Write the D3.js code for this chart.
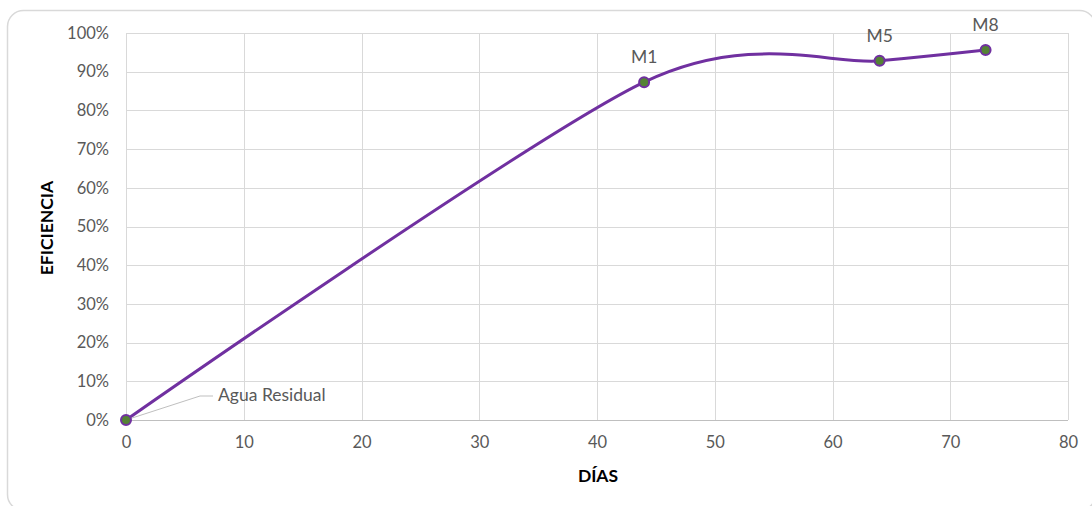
<!DOCTYPE html>
<html><head><meta charset="utf-8">
<script src="https://cdn.jsdelivr.net/npm/d3@7"></script>
<style>body{margin:0;background:#fff;}svg{display:block;}</style>
</head><body>
<svg id="c" width="1092" height="506"></svg>
<script>
const dias = [0, 44, 64, 73];
const eficiencia = [0, 0.873, 0.928, 0.956];
const etiquetas = ["Agua Residual", "M1", "M5", "M8"];
const xTicks = [0, 10, 20, 30, 40, 50, 60, 70, 80];
const yTicks = [0, 0.1, 0.2, 0.3, 0.4, 0.5, 0.6, 0.7, 0.8, 0.9, 1.0];

const svg = d3.select("#c");
const font = "Lato, 'Open Sans', sans-serif";
svg.append("rect").attr("x", 7.5).attr("y", 10.5).attr("width", 1088).attr("height", 500)
  .attr("rx", 16).attr("fill", "#fff").attr("stroke", "#d9d9d9").attr("stroke-width", 1.5);

const x = d3.scaleLinear().domain([0, 80]).range([126, 1068]);
const y = d3.scaleLinear().domain([0, 1]).range([420, 33]);

const g = svg.append("g");
g.selectAll(".hg").data(yTicks).join("line")
  .attr("x1", x(0)).attr("x2", x(80)).attr("y1", d => Math.round(y(d)) + 0.5).attr("y2", d => Math.round(y(d)) + 0.5)
  .attr("stroke", d => d === 0 ? "#bfbfbf" : "#d9d9d9").attr("stroke-width", 1);
g.selectAll(".vg").data(xTicks).join("line")
  .attr("y1", y(1)).attr("y2", y(0)).attr("x1", d => Math.round(x(d)) + 0.5).attr("x2", d => Math.round(x(d)) + 0.5)
  .attr("stroke", "#d9d9d9").attr("stroke-width", 1);

const yAxis = svg.append("g").attr("transform", `translate(${x(0)},0)`)
  .call(d3.axisLeft(y).tickValues(yTicks).tickFormat(d3.format(".0%")).tickSize(0).tickPadding(17));
yAxis.select(".domain").remove();
yAxis.selectAll("text").attr("font-family", font).attr("font-size", 16.5).attr("fill", "#595959");

const xAxis = svg.append("g").attr("transform", `translate(0,${y(0)})`)
  .call(d3.axisBottom(x).tickValues(xTicks).tickFormat(d3.format("d")).tickSize(0).tickPadding(16));
xAxis.select(".domain").remove();
xAxis.selectAll("text").attr("font-family", font).attr("font-size", 16.5).attr("fill", "#595959");

svg.append("text").attr("x", 598).attr("y", 482).attr("text-anchor", "middle")
  .attr("font-family", font).attr("font-weight", "bold").attr("font-size", 17.5).attr("fill", "#000").text("DÍAS");
svg.append("text").attr("transform", "translate(53,228) rotate(-90)").attr("text-anchor", "middle")
  .attr("font-family", font).attr("font-weight", "bold").attr("font-size", 17.5).attr("fill", "#000").text("EFICIENCIA");

const pts = dias.map((d, i) => [d, eficiencia[i]]);
const line = d3.line().x(d => x(d[0])).y(d => y(d[1])).curve(d3.curveCardinal.tension(0.15));
svg.append("path").datum(pts).attr("d", line).attr("fill", "none")
  .attr("stroke", "#7030a0").attr("stroke-width", 3);

svg.append("polyline")
  .attr("points", `${x(dias[0]) + 3},${y(eficiencia[0]) - 1} ${x(dias[0]) + 74},${y(eficiencia[0]) - 24} ${x(dias[0]) + 87},${y(eficiencia[0]) - 24}`)
  .attr("fill", "none").attr("stroke", "#bfbfbf").attr("stroke-width", 1);

svg.selectAll(".pt").data(pts).join("circle")
  .attr("cx", d => x(d[0])).attr("cy", d => y(d[1])).attr("r", 5)
  .attr("fill", "#548235").attr("stroke", "#7030a0").attr("stroke-width", 2);

svg.selectAll(".lbl").data(pts).join("text")
  .attr("x", (d, i) => i === 0 ? x(d[0]) + 92 : x(d[0]))
  .attr("y", (d, i) => y(d[1]) - 19)
  .attr("text-anchor", (d, i) => i === 0 ? "start" : "middle")
  .attr("font-family", font).attr("font-size", 17.5).attr("fill", "#595959")
  .text((d, i) => etiquetas[i]);
</script>
</body></html>
